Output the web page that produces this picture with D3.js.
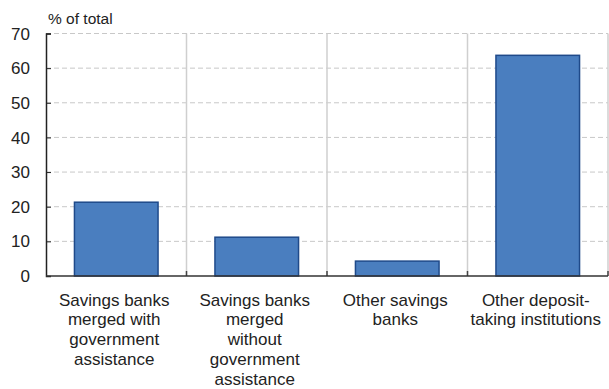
<!DOCTYPE html>
<html>
<head>
<meta charset="utf-8">
<script src="https://cdn.jsdelivr.net/npm/d3@7"></script>
<style>
  body { margin: 0; background: #fff; }
  svg { display: block; font-family: "Liberation Sans", Arial, sans-serif; }
</style>
</head>
<body>
<div id="chart"></div>
<script>
const categories = [
  ['Savings banks', 'merged with', 'government', 'assistance'],
  ['Savings banks', 'merged', 'without', 'government', 'assistance'],
  ['Other savings', 'banks'],
  ['Other deposit-', 'taking institutions']
];
const values = [21.3, 11.2, 4.3, 63.7];
const yTicks = [0, 10, 20, 30, 40, 50, 60, 70];
const unitLabel = '% of total';

const width = 609, height = 389;
const margin = {top: 33.5, right: 1, bottom: 113, left: 46};

const svg = d3.select('#chart').append('svg')
  .attr('width', width)
  .attr('height', height);

const x = d3.scaleBand()
  .domain(d3.range(categories.length))
  .range([margin.left, width - margin.right])
  .paddingInner(0)
  .paddingOuter(0);

const y = d3.scaleLinear()
  .domain([0, 70])
  .range([height - margin.bottom, margin.top]);

const g = svg.append('g');

// dashed gridlines
g.selectAll('line.grid')
  .data(yTicks.filter(d => d > 0))
  .enter().append('line')
  .attr('class', 'grid')
  .attr('x1', margin.left)
  .attr('x2', width - margin.right)
  .attr('y1', d => y(d))
  .attr('y2', d => y(d))
  .attr('stroke', '#c8c8c8')
  .attr('stroke-width', 1)
  .attr('stroke-dasharray', '5,3');

// category separators
const seps = d3.range(1, categories.length + 1).map(i => x(i - 1) + x.bandwidth());
g.selectAll('line.sep')
  .data(seps)
  .enter().append('line')
  .attr('x1', d => d)
  .attr('x2', d => d)
  .attr('y1', y(70))
  .attr('y2', y(0))
  .attr('stroke', '#cfcfcf')
  .attr('stroke-width', 1.5);

// bars
const barW = x.bandwidth() * 0.595;
g.selectAll('rect.bar')
  .data(values)
  .enter().append('rect')
  .attr('x', (d, i) => x(i) + (x.bandwidth() - barW) / 2)
  .attr('y', d => y(d))
  .attr('width', barW)
  .attr('height', d => y(0) - y(d))
  .attr('fill', '#4a7ebf')
  .attr('stroke', '#1f4a8a')
  .attr('stroke-width', 1.5);

// y axis
const yAxis = g.append('g')
  .attr('transform', `translate(${margin.left},0)`)
  .call(d3.axisRight(y).tickValues(yTicks).tickSize(5).tickFormat(''));
yAxis.select('.domain').attr('stroke', '#222').attr('stroke-width', 1.5);
yAxis.selectAll('.tick line').attr('stroke', '#222').attr('stroke-width', 1);

g.selectAll('text.ylab')
  .data(yTicks)
  .enter().append('text')
  .attr('x', 30)
  .attr('y', d => y(d))
  .attr('dy', '0.36em')
  .attr('text-anchor', 'end')
  .attr('font-size', 17)
  .attr('fill', '#222')
  .text(d => d);

// separator ticks at the base
g.selectAll('line.septick')
  .data(seps)
  .enter().append('line')
  .attr('x1', d => d)
  .attr('x2', d => d)
  .attr('y1', y(0))
  .attr('y2', y(0) - 5)
  .attr('stroke', '#444')
  .attr('stroke-width', 1.5);

// x baseline
g.append('line')
  .attr('x1', margin.left)
  .attr('x2', width - margin.right)
  .attr('y1', y(0))
  .attr('y2', y(0))
  .attr('stroke', '#333')
  .attr('stroke-width', 1.5);

// unit label
svg.append('text')
  .attr('x', 48)
  .attr('y', 24)
  .attr('font-size', 15.5)
  .attr('fill', '#222')
  .text(unitLabel);

// category labels
const labels = g.selectAll('text.xlab')
  .data(categories)
  .enter().append('text')
  .attr('text-anchor', 'middle')
  .attr('font-size', 17)
  .attr('fill', '#222');
labels.selectAll('tspan')
  .data((d, i) => d.map(line => ({line, i})))
  .enter().append('tspan')
  .attr('x', d => x(d.i) + x.bandwidth() / 2 - 2)
  .attr('y', (d, j) => y(0) + 29.5 + j * 19.9)
  .text(d => d.line);
</script>
</body>
</html>
